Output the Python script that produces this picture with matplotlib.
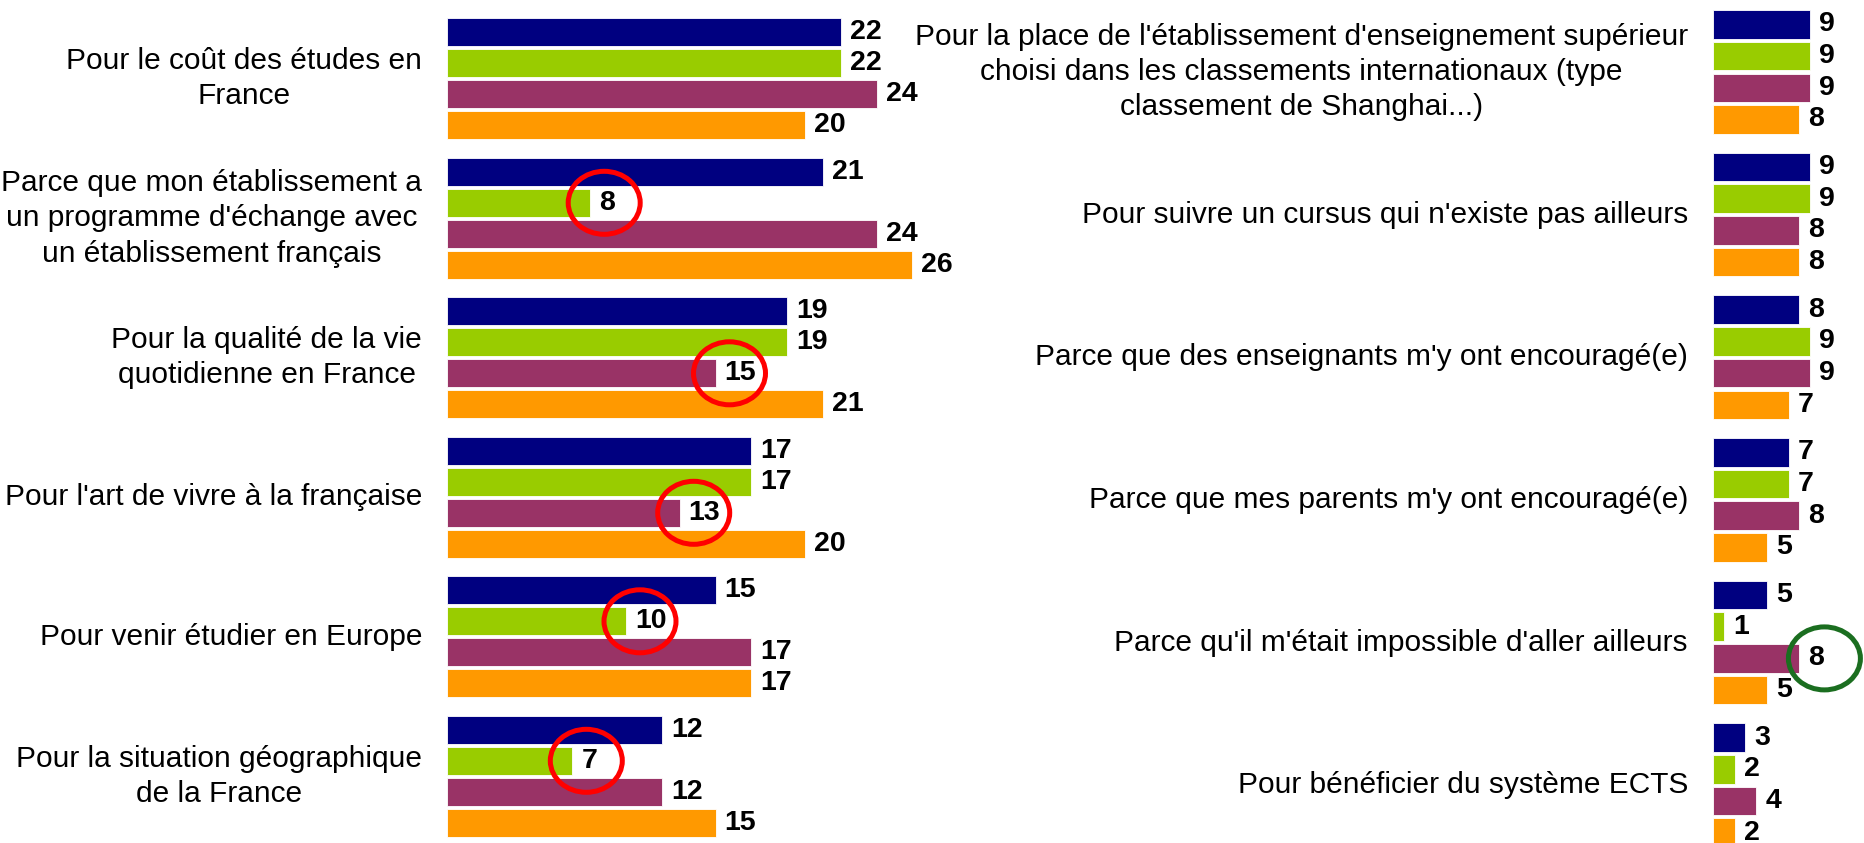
import matplotlib
matplotlib.use("Agg")
import matplotlib.pyplot as plt
from matplotlib.patches import Ellipse

plt.rcParams['font.family'] = ['Liberation Sans', 'DejaVu Sans']

colors = ['#000080', '#99CC00', '#993366', '#FF9900']

left_labels = ["Pour le coût des études en\nFrance",
               "Parce que mon établissement a\nun programme d'échange avec\nun établissement français",
               "Pour la qualité de la vie\nquotidienne en France",
               "Pour l'art de vivre à la française",
               "Pour venir étudier en Europe",
               "Pour la situation géographique\nde la France"]
left_vals = [[22, 22, 24, 20],
             [21, 8, 24, 26],
             [19, 19, 15, 21],
             [17, 17, 13, 20],
             [15, 10, 17, 17],
             [12, 7, 12, 15]]
left_circles = [(1, 1), (2, 2), (3, 2), (4, 1), (5, 1)]

right_labels = ["Pour la place de l'établissement d'enseignement supérieur\nchoisi dans les classements internationaux (type\nclassement de Shanghai...)",
                "Pour suivre un cursus qui n'existe pas ailleurs",
                "Parce que des enseignants m'y ont encouragé(e)",
                "Parce que mes parents m'y ont encouragé(e)",
                "Parce qu'il m'était impossible d'aller ailleurs",
                "Pour bénéficier du système ECTS"]
right_vals = [[9, 9, 9, 8],
              [9, 9, 8, 8],
              [8, 9, 9, 7],
              [7, 7, 8, 5],
              [5, 1, 8, 5],
              [3, 2, 4, 2]]
right_circles = [(4, 2)]

W, H = 1864, 843
fig = plt.figure(figsize=(W/100, H/100), dpi=100)


def panel(x0, x1, pxu, ypx, y0px, labels, vals, circles, ccolor, cdx):
    ax = fig.add_axes([x0/W, 0, (x1-x0)/W, 1])
    ax.set_xlim(0, (x1-x0)/pxu)
    top = -y0px/ypx
    ax.set_ylim(top + H/ypx, top)
    ax.axis('off')
    for g, row in enumerate(vals):
        base = g*4.5
        for j, v in enumerate(row):
            ax.barh(base + j, v, height=0.9, color=colors[j], edgecolor='white', linewidth=0.6)
            ax.annotate(str(v), (v, base + j), xytext=(6.5, 0), textcoords='offset points',
                        ha='left', va='center', fontsize=20.5, fontweight='bold',
                        annotation_clip=False)
        ax.annotate(labels[g], (0, base + 1.5), xytext=(-18, 0), textcoords='offset points',
                    ha='right', va='center', multialignment='center', fontsize=21.5,
                    linespacing=1.33, annotation_clip=False)
    for g, j in circles:
        v = vals[g][j]
        e = Ellipse((v + cdx/pxu, g*4.5 + j), 72/pxu, 63/ypx, fill=False,
                    edgecolor=ccolor, linewidth=3.6, zorder=5, clip_on=False)
        ax.add_patch(e)
    return ax


panel(447, 980, 17.9, 31.0, 32.3, left_labels, left_vals, left_circles, '#FF0000', 14)
panel(1713, 1864, 10.8, 31.7, 24.4, right_labels, right_vals, right_circles, '#1B6E20', 25)

fig.savefig('out.png', dpi=100)
